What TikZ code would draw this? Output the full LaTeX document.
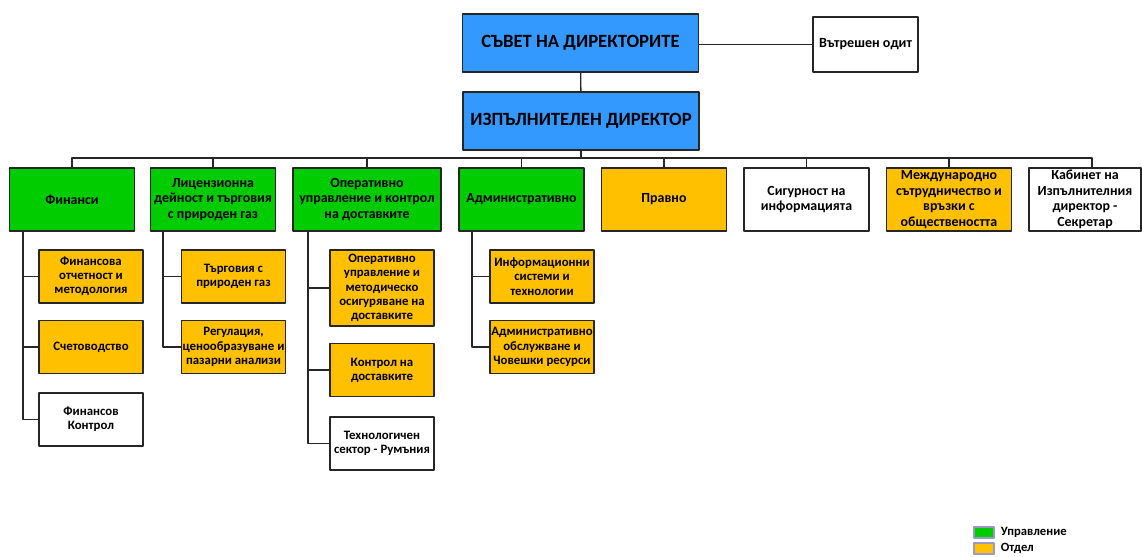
\documentclass[tikz,border=0pt]{standalone}
\usepackage{fontspec}
\setmainfont{Carlito}
\definecolor{sinyo}{RGB}{51,153,255}
\definecolor{zeleno}{RGB}{0,204,0}
\definecolor{oranzh}{RGB}{255,192,0}
\begin{document}
\begin{tikzpicture}[x=0.025cm,y=-0.025cm,line join=round,line cap=rect,
	kutiya/.style={draw=black!85,line width=1.3pt,align=center,inner sep=1pt,font=\fontsize{9.9}{11}\selectfont\bfseries},
	shefbox/.style={kutiya,fill=sinyo,minimum width=5.9cm,minimum height=1.45cm,font=\fontsize{13.3}{15}\selectfont\bfseries},
	nivo/.style={kutiya,minimum width=3.125cm,minimum height=1.575cm},
	otdel/.style={kutiya,minimum width=2.6cm,minimum height=1.325cm,inner xsep=0pt,font=\fontsize{9.1}{10.1}\selectfont\bfseries},
	vrazka/.style={black!85,line width=1pt},
	legbox/.style={draw=black!55!blue!40,line width=0.8pt,minimum width=0.5cm,minimum height=0.275cm,inner sep=0pt}]
	\useasboundingbox (0,0) rectangle (1142,557);
	%%% vurh
	\node[shefbox] (savet) at (580.5,43) {СЪВЕТ НА ДИРЕКТОРИТЕ};
	\node[shefbox] (izpdir) at (581,121) {ИЗПЪЛНИТЕЛЕН ДИРЕКТОР};
	\node[kutiya,fill=white,minimum width=2.625cm,minimum height=1.375cm,font=\fontsize{10}{11}\selectfont\bfseries] (odit) at (865.5,44.5) {Вътрешен одит};
	\draw[vrazka] (odit.west) -- (odit.west -| savet.east);
	\draw[vrazka] (savet) -- (izpdir);
	%%% vtoro nivo
	\node[nivo,fill=zeleno] (finansi) at (72,199.5) {Финанси};
	\node[nivo,fill=zeleno] (licenz) at (213,199.5) {Лицензионна\\дейност и търговия\\с природен газ};
	\node[nivo,fill=zeleno,minimum width=3.7cm] (operativno) at (367,199.5) {Оперативно\\управление и контрол\\на доставките};
	\node[nivo,fill=zeleno] (admin) at (521.5,199.5) {Административно};
	\node[nivo,fill=oranzh] (pravno) at (664,199.5) {Правно};
	\node[nivo,fill=white] (sigurnost) at (806.5,199.5) {Сигурност на\\информацията};
	\node[nivo,fill=oranzh] (mezhdu) at (949,199.5) {Международно\\сътрудничество и\\връзки с\\обществеността};
	\node[nivo,fill=white,minimum width=2.8cm] (kabinet) at (1085,199.5) {Кабинет на\\Изпълнителния\\директор -\\Секретар};
	%%% shina
	\coordinate (shina) at (581,158);
	\coordinate (shinaK) at (1092,158);
	\draw[vrazka] (izpdir) -- (shina);
	\draw[vrazka] (finansi.north) |- (shinaK) -- (shinaK |- kabinet.north);
	\foreach \n in {licenz,operativno,admin,pravno,sigurnost,mezhdu}
		\draw[vrazka] (\n.north) -- (\n.north |- shina);
	%%% treto nivo
	\node[otdel,fill=oranzh] (fin1) at (91,276.5) {Финансова\\отчетност и\\методология};
	\node[otdel,fill=oranzh] (fin2) at (91,347) {Счетоводство};
	\node[otdel,fill=white] (fin3) at (91,419.5) {Финансов\\Контрол};
	\node[otdel,fill=oranzh] (lic1) at (233.5,276.5) {Търговия с\\природен газ};
	\node[otdel,fill=oranzh] (lic2) at (233.5,347) {Регулация,\\ценообразуване и\\пазарни анализи};
	\node[otdel,fill=oranzh,minimum height=1.9cm] (op1) at (382,288) {Оперативно\\управление и\\методическо\\осигуряване на\\доставките};
	\node[otdel,fill=oranzh] (op2) at (382,370) {Контрол на\\доставките};
	\node[otdel,fill=white] (op3) at (382,443.5) {Технологичен\\сектор - Румъния};
	\node[otdel,fill=oranzh] (adm1) at (542,276.5) {Информационни\\системи и\\технологии};
	\node[otdel,fill=oranzh] (adm2) at (542,347) {Административно\\обслужване и\\Човешки ресурси};
	%%% grebeni
	\coordinate (finG) at (23,231);
	\coordinate (licG) at (163,231);
	\coordinate (opG) at (308,231);
	\coordinate (admG) at (472,231);
	\draw[vrazka] (finG) |- (fin3.west);
	\draw[vrazka] (finG |- fin1.west) -- (fin1.west);
	\draw[vrazka] (finG |- fin2.west) -- (fin2.west);
	\draw[vrazka] (licG) |- (lic2.west);
	\draw[vrazka] (licG |- lic1.west) -- (lic1.west);
	\draw[vrazka] (opG) |- (op3.west);
	\draw[vrazka] (opG |- op1.west) -- (op1.west);
	\draw[vrazka] (opG |- op2.west) -- (op2.west);
	\draw[vrazka] (admG) |- (adm2.west);
	\draw[vrazka] (admG |- adm1.west) -- (adm1.west);
	%%% legenda
	\node[legbox,fill=zeleno] (legU) at (984,532.5) {};
	\node[legbox,fill=oranzh] (legO) at (984,548.5) {};
	\node[right=1.5mm,inner sep=0pt,font=\fontsize{9}{10}\selectfont\bfseries] at (legU.east) {Управление};
	\node[right=1.5mm,inner sep=0pt,font=\fontsize{9}{10}\selectfont\bfseries] at (legO.east) {Отдел};
\end{tikzpicture}
\end{document}
